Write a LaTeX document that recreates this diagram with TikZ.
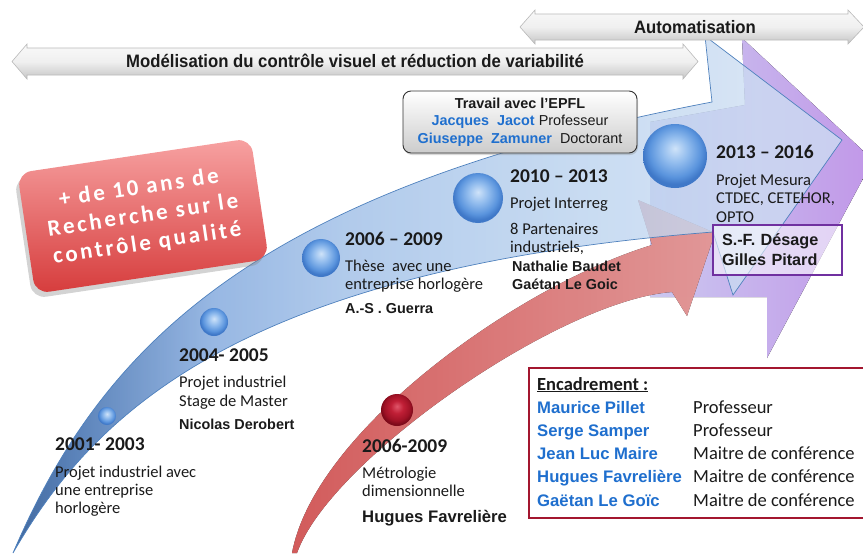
\documentclass[tikz,border=0pt]{standalone}
\usepackage{fontspec}
\setmainfont{Carlito}
\newfontfamily\arialf{Liberation Sans}
\newfontfamily\bannerf[FakeStretch=0.93]{Liberation Sans}
\newfontfamily\claimf[LetterSpace=12]{Carlito}
\usetikzlibrary{shadows}

\definecolor{txt}{HTML}{1A1A1A}
\definecolor{nameblue}{HTML}{1F6FCE}
\definecolor{bldark}{HTML}{0C3F85}
\definecolor{bltwo}{HTML}{2F62A8}
\definecolor{blmid}{HTML}{7AA3DB}
\definecolor{blthree}{HTML}{9BBCE6}
\definecolor{blfour}{HTML}{BAD2EE}
\definecolor{bllight}{HTML}{CCDDF2}
\definecolor{bledge}{HTML}{4F81BD}
\definecolor{redL}{HTML}{E86464}
\definecolor{redR}{HTML}{F8A6A6}
\definecolor{purL}{HTML}{CBC8F0}
\definecolor{purR}{HTML}{C197E8}
\definecolor{encred}{HTML}{A3162F}
\definecolor{sfpurple}{HTML}{7030A0}
\definecolor{boxtop}{HTML}{F7A2A2}
\definecolor{boxbot}{HTML}{D63C3C}
\definecolor{sbone}{HTML}{CFE3F9}
\definecolor{sbtwo}{HTML}{93BDEE}
\definecolor{sbthree}{HTML}{5A94DD}
\definecolor{sbfour}{HTML}{3F78C8}
\definecolor{srone}{HTML}{E0566A}
\definecolor{srtwo}{HTML}{C01F36}
\definecolor{srthree}{HTML}{A01226}
\definecolor{srfour}{HTML}{7E0A1A}

\pgfdeclarehorizontalshading{bluearrow}{100bp}{color(0bp)=(bldark); color(25bp)=(bldark); color(29bp)=(bltwo); color(37bp)=(blmid); color(45bp)=(blthree); color(60bp)=(blfour); color(70bp)=(bllight); color(100bp)=(bllight)}
\pgfdeclareradialshading{sphereblue}{\pgfpoint{0bp}{6bp}}{color(0bp)=(sbone); color(10bp)=(sbtwo); color(20bp)=(sbthree); color(25bp)=(sbfour); color(50bp)=(sbfour)}
\pgfdeclareradialshading{spherered}{\pgfpoint{0bp}{6bp}}{color(0bp)=(srone); color(10bp)=(srtwo); color(20bp)=(srthree); color(25bp)=(srfour); color(50bp)=(srfour)}

\newcommand{\encname}[1]{\makebox[156pt][l]{\arialf\bfseries\fontsize{16.7}{23.2}\selectfont\color{nameblue}#1}}

\begin{document}
\begin{tikzpicture}[x=1pt, y=-1pt,
	lbl/.style={inner sep=0pt, anchor=base west, text=txt},
	yr/.style={lbl, font=\bfseries\fontsize{19.5}{21}\selectfont},
	desc/.style={lbl, font=\fontsize{16.5}{18}\selectfont},
	who/.style={lbl, font=\arialf\bfseries\fontsize{14.4}{16}\selectfont},
	blob/.style={circle, inner sep=0pt, shade, shading=sphereblue},
	banner/.style={shade, top color=gray!5, bottom color=gray!45, middle color=gray!12, draw=gray!55, line width=.6pt},
	bannertxt/.style={inner sep=0pt, text=txt, font=\bannerf\bfseries\fontsize{18}{20}\selectfont},
	claim/.style={rectangle, rounded corners=14pt, minimum width=236pt, minimum height=122pt, top color=boxtop, bottom color=boxbot, align=center, text=white, font=\claimf\bfseries\fontsize{23}{28}\selectfont, drop shadow={shadow xshift=-3pt, shadow yshift=-5pt, opacity=.35}},
	epfl/.style={rectangle, rounded corners=8pt, draw=black!80, line width=.9pt, top color=white, bottom color=gray!40, minimum width=234pt, minimum height=62pt, align=center, text=txt, font=\arialf\fontsize{14.4}{17.5}\selectfont, drop shadow={shadow xshift=1pt, shadow yshift=-2pt, opacity=.3}},
	sfbox/.style={rectangle, draw=sfpurple, line width=1.6pt, fill=white, fill opacity=.55, text opacity=1, minimum height=50pt, inner xsep=9pt, text width=111pt, align=left, text=txt, font=\arialf\bfseries\fontsize{16.2}{20}\selectfont},
	encbox/.style={rectangle, draw=encred, line width=1.5pt, fill=white, minimum width=352pt, minimum height=150pt, anchor=north west}]

	\useasboundingbox (0, 0) rectangle (863, 555);
	\clip (0, 0) rectangle (863, 555);

	% fleche violette
	\fill[left color=purL, right color=purR] (650, 122) -- (745, 105) -- (742, 38) -- (873, 160) -- (767, 358) -- (767, 297) -- (650, 297) -- cycle;

	% fleche rouge
	\fill[left color=redL, right color=redR, fill opacity=.9] (292, 553) .. controls (315, 430) and (520, 285) .. (652, 245) -- (638, 200) -- (715, 233) -- (687, 316) -- (672, 292) .. controls (560, 300) and (330, 460) .. (297, 553) -- cycle;

	% fleche bleue
	\draw[shade, shading=bluearrow, fill opacity=.78, draw=bledge, line width=.7pt] (13, 553) .. controls (100, 350) and (250, 190) .. (712, 102) -- (705, 36) -- (842, 140) -- (733, 295) -- (713, 232) .. controls (230, 270) and (90, 420) .. (13, 553) -- cycle;

	% jalons
	\node[blob, minimum size=18pt] (c1) at (107, 416) {};
	\node[blob, minimum size=28pt] (c2) at (214, 322) {};
	\node[blob, minimum size=38pt] (c3) at (321, 258) {};
	\node[blob, minimum size=50pt] (c4) at (478, 198) {};
	\node[blob, minimum size=64pt] (c5) at (675, 156) {};
	\node[blob, shading=spherered, minimum size=32pt] (cr) at (397, 410) {};

	\draw (55, 450) node[yr] (y01) {2001- 2003};
	\draw (55, 477) node[desc] (d01a) {Projet industriel avec};
	\draw (55, 495) node[desc] (d01b) {une entreprise};
	\draw (55, 513) node[desc] (d01c) {horlogère};

	\draw (179, 361) node[yr] (y04) {2004- 2005};
	\draw (179, 387) node[desc] (d04a) {Projet industriel};
	\draw (179, 406) node[desc] (d04b) {Stage de Master};
	\draw (179, 429) node[who] (n04) {Nicolas Derobert};

	\draw (345, 245) node[yr] (y06) {2006 – 2009};
	\draw (345, 271) node[desc] (d06a) {Thèse\ \ avec une};
	\draw (345, 289) node[desc] (d06b) {entreprise horlogère};
	\draw (345, 313) node[who] (n06) {A.-S . Guerra};

	\draw (510, 182) node[yr] (y10) {2010 – 2013};
	\draw (510, 208) node[desc] (d10a) {Projet Interreg};
	\draw (510, 234) node[desc] (d10b) {8 Partenaires};
	\draw (510, 252) node[desc] (d10c) {industriels,};
	\draw (512, 271) node[who] (n10a) {Nathalie Baudet};
	\draw (512, 289) node[who] (n10b) {Gaétan Le Goic};

	\draw (716, 158) node[yr] (y13) {2013 – 2016};
	\draw (716, 185) node[desc] (d13a) {Projet Mesura};
	\draw (716, 203) node[desc] (d13b) {CTDEC, CETEHOR,};
	\draw (716, 222) node[desc] (d13c) {OPTO};

	\draw (362, 452) node[yr] (y06r) {2006-2009};
	\draw (362, 478) node[desc] (d06ra) {Métrologie};
	\draw (362, 496) node[desc] (d06rb) {dimensionnelle};
	\draw (362, 522) node[who, font=\arialf\bfseries\fontsize{16.7}{18}\selectfont] (n06r) {Hugues Favrelière};

	% encadres
	\node[claim, rotate=8.5] (claim) at (143, 216) {+ de 10 ans de\\Recherche sur le\\contrôle qualité};
	\node[epfl] (epflbox) at (520, 122) {{\bfseries Travail avec l’EPFL}\\\textcolor{nameblue}{\bfseries Jacques\ \ Jacot} Professeur\\\textcolor{nameblue}{\bfseries Giuseppe\ \ Zamuner}\ \ Doctorant};
	\node[sfbox] (sfd) at (777.5, 250) {S.-F. Désage\\Gilles Pitard};

	\node[encbox] (enc) at (528, 367) {};
	\draw (537, 390) node[lbl, font=\fontsize{18.5}{23.2}\selectfont] (enctxt) {\begin{tabular}[t]{@{}l@{}}
		{\bfseries\underline{Encadrement :}}\\
		\encname{Maurice Pillet}Professeur\\
		\encname{Serge Samper}Professeur\\
		\encname{Jean Luc Maire}Maitre de conférence\\
		\encname{Hugues Favrelière}Maitre de conférence\\
		\encname{Gaëtan Le Goïc}Maitre de conférence
	\end{tabular}};

	% bandeaux
	\draw[banner] (12, 61.5) -- (27, 44) -- (27, 48) -- (683, 48) -- (683, 44) -- (698, 61.5) -- (683, 79) -- (683, 75) -- (27, 75) -- (27, 79) -- cycle;
	\draw[banner] (520, 27) -- (535, 10) -- (535, 14) -- (848, 14) -- (848, 10) -- (864, 27) -- (848, 44) -- (848, 40) -- (535, 40) -- (535, 44) -- cycle;
	\draw (355, 61) node[bannertxt] (bn1) {Modélisation du contrôle visuel et réduction de variabilité};
	\draw (695, 27) node[bannertxt] (bn2) {Automatisation};
\end{tikzpicture}
\end{document}
